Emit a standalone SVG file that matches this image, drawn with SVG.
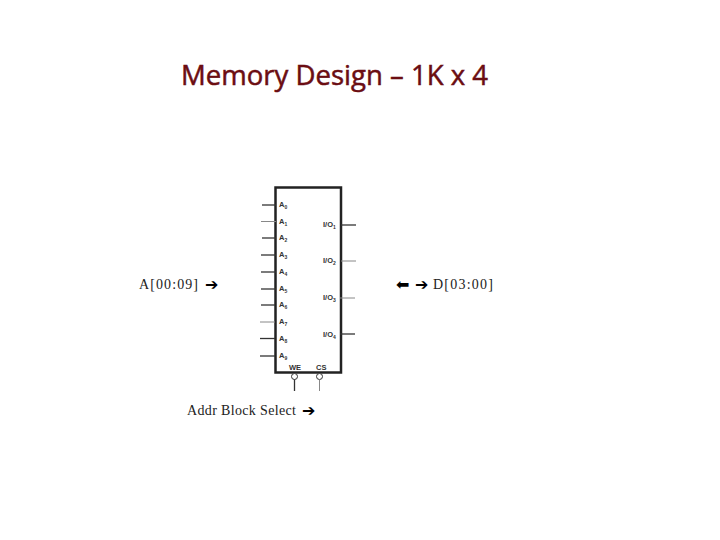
<svg xmlns="http://www.w3.org/2000/svg" width="720" height="540" viewBox="0 0 720 540">
<style>
.title{font-family:"Open Sans","DejaVu Sans",sans-serif;font-size:27px;fill:#6b0d12;stroke:#6b0d12;stroke-width:.5}
.t{font-family:"Liberation Serif",serif;font-size:14px;fill:#222}
.a{font-family:"DejaVu Sans",sans-serif;font-size:16px;fill:#000}
.p{font-family:"Liberation Sans",sans-serif;font-size:7.500px;font-weight:bold;fill:#333}
.s{font-size:5px}
.w{stroke:#333;stroke-width:1.300;fill:none}
.l{stroke:#888;stroke-width:1;fill:none}
</style>
<rect width="720" height="540" fill="#fff"/>
<text class="title" x="181" y="85" textLength="307" lengthAdjust="spacingAndGlyphs">Memory Design – 1K x 4</text>
<g id="chip">
<rect x="275.500" y="187.500" width="65.500" height="185" fill="#fff" stroke="#222" stroke-width="2.500"/>
<text class="p" x="279" y="207">A<tspan class="s" dy="1.500">0</tspan></text>
<text class="p" x="279" y="224">A<tspan class="s" dy="1.500">1</tspan></text>
<text class="p" x="279" y="240">A<tspan class="s" dy="1.500">2</tspan></text>
<text class="p" x="279" y="257">A<tspan class="s" dy="1.500">3</tspan></text>
<text class="p" x="279" y="274">A<tspan class="s" dy="1.500">4</tspan></text>
<text class="p" x="279" y="291">A<tspan class="s" dy="1.500">5</tspan></text>
<text class="p" x="279" y="307">A<tspan class="s" dy="1.500">6</tspan></text>
<text class="p" x="279" y="324">A<tspan class="s" dy="1.500">7</tspan></text>
<text class="p" x="279" y="341">A<tspan class="s" dy="1.500">8</tspan></text>
<text class="p" x="279" y="358">A<tspan class="s" dy="1.500">9</tspan></text>
<text class="p" x="323" y="227">I/O<tspan class="s" dy="1.500">1</tspan></text>
<text class="p" x="323" y="263">I/O<tspan class="s" dy="1.500">2</tspan></text>
<text class="p" x="323" y="300">I/O<tspan class="s" dy="1.500">3</tspan></text>
<text class="p" x="323" y="337">I/O<tspan class="s" dy="1.500">4</tspan></text>
<text class="p" x="289" y="370">WE</text>
<text class="p" x="316" y="370">CS</text>
</g>
<g id="connectors">
<path class="w" d="M262 205H276"/>
<path class="l" d="M261 221.500H276"/>
<path class="w" d="M262 238H276"/>
<path class="w" d="M261 255H276"/>
<path class="w" d="M261 272H276"/>
<path class="w" d="M261 289H276"/>
<path class="w" d="M261 305H275"/>
<path class="l" d="M260 322H275"/>
<path class="w" d="M260 338.500H275"/>
<path class="w" d="M260 356H275"/>
<path class="w" d="M341 225H356"/>
<path class="l" d="M341 261H356"/>
<path class="l" d="M340 298H355"/>
<path class="w" d="M340 334H355"/>
<circle cx="294.500" cy="376.500" r="3" fill="#fff" stroke="#333"/>
<circle cx="319.500" cy="376.500" r="3" fill="#fff" stroke="#333"/>
<path class="w" d="M294.500 379.500V391"/>
<path class="l" d="M319.500 379.500V391"/>
</g>
<g id="label-address">
<text class="t" x="139" y="289" textLength="59" lengthAdjust="spacing">A[00:09]</text>
<text class="a" x="205" y="290">➔</text>
</g>
<g id="label-data">
<text class="a" x="396" y="290">⬅</text>
<text class="a" x="415" y="290">➔</text>
<text class="t" x="433" y="289" textLength="60" lengthAdjust="spacing">D[03:00]</text>
</g>
<g id="label-block">
<text class="t" x="187" y="415" textLength="109" lengthAdjust="spacing">Addr Block Select</text>
<text class="a" x="302" y="416">➔</text>
</g>
</svg>
